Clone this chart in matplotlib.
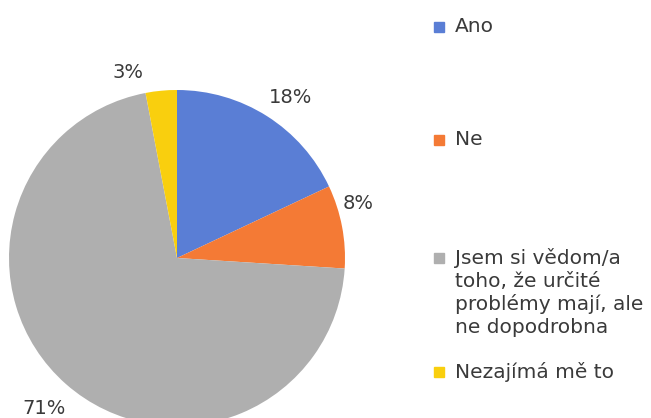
import matplotlib as mpl
mpl.use("Agg")
import matplotlib.pyplot as plt
from matplotlib.patches import Rectangle

plt.rcParams['font.family'] = ['DejaVu Sans']

labels = ["Ano", "Ne", "Jsem si vědom/a\ntoho, že určité\nproblémy mají, ale\nne dopodrobna", "Nezajímá mě to"]
values = [18, 8, 71, 3]
colors = ["#5A7ED5", "#F47A35", "#AFAFAF", "#F9CF0E"]

fig = plt.figure(figsize=(6.51, 4.18), dpi=100)
ax = fig.add_axes([9 / 651, -8 / 418, 336 / 651, 336 / 418])
wedges, texts, autotexts = ax.pie(values, colors=colors, startangle=90, counterclock=False,
                                  autopct="%1.0f%%", pctdistance=1.17,
                                  textprops=dict(color="#3a3a3a", fontsize=14))
# nudge the percentage labels so they sit clear of the slices
label_pos = [(0.673, 0.958), (1.077, 0.327), (-0.792, -0.893), (-0.292, 1.107)]
for t, p in zip(autotexts, label_pos):
    t.set_position(p)
ax.set_xlim(-1, 1)
ax.set_ylim(-1, 1)
ax.set_aspect("equal")

# legend on the right, entries spread down the figure
legend_y = [27, 140, 258, 372]
for lab, col, y in zip(labels, colors, legend_y):
    fig.patches.append(Rectangle((434 / 651, 1 - (y + 5) / 418), 10 / 651, 10 / 418,
                                 transform=fig.transFigure, color=col, figure=fig))
    fig.text(455 / 651, 1 - (y - 10) / 418, lab, fontsize=14.5, color="#3a3a3a",
             va="top", ha="left", linespacing=1.24)

fig.savefig("out.png", dpi=100)
